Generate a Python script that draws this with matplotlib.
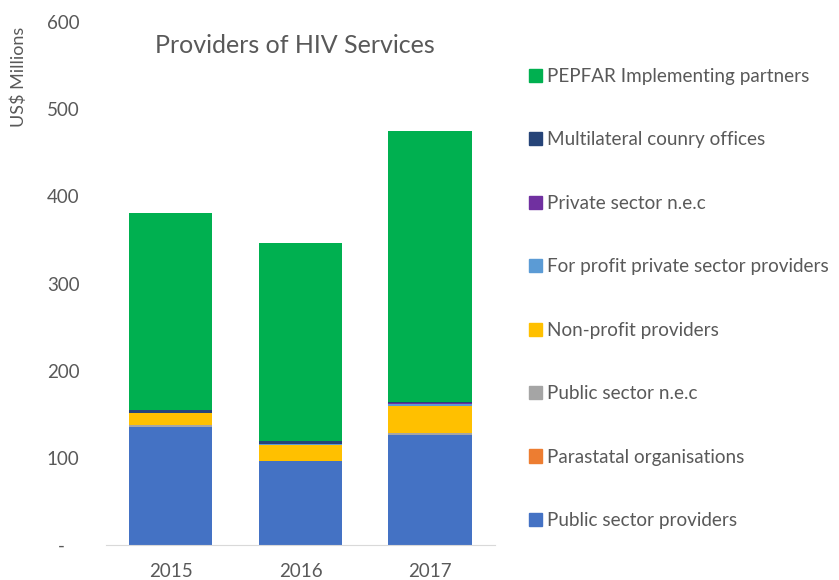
import numpy as np
from matplotlib import pyplot as plt
from matplotlib.patches import Patch

plt.rcParams['font.family'] = ['Lato', 'DejaVu Sans']

years = ["2015", "2016", "2017"]
series = [
    "Public sector providers",
    "Parastatal organisations",
    "Public sector n.e.c",
    "Non-profit providers",
    "For profit private sector providers",
    "Private sector n.e.c",
    "Multilateral counry offices",
    "PEPFAR Implementing partners",
]
values = [
    [135.5, 96.5, 126.0],
    [0.0, 0.0, 0.0],
    [2.5, 0.3, 2.5],
    [13.5, 18.0, 31.0],
    [0.3, 1.0, 2.7],
    [0.2, 0.2, 0.2],
    [3.4, 3.8, 1.8],
    [225.0, 227.0, 311.0],
]
colors = ["#4472C4", "#ED7D31", "#A5A5A5", "#FFC000",
          "#5B9BD5", "#7030A0", "#264478", "#00B050"]

text_col = "#595959"

fig = plt.figure(figsize=(8.39, 5.80), dpi=100)
ax = fig.add_axes([0.1263, 0.0603, 0.4637, 0.9017])

x = np.arange(len(years))
bottom = np.zeros(len(years))
for name, vals, c in zip(series, values, colors):
    vals = np.array(vals)
    ax.bar(x, vals, bottom=bottom, width=0.643, color=c, label=name)
    bottom += vals

ax.set_xlim(-0.5, 2.5)
ax.set_ylim(0, 600)
ax.set_yticks(range(0, 601, 100))
ax.set_yticklabels(["-   "] + [str(v) for v in range(100, 601, 100)])
ax.set_xticks(x)
ax.set_xticklabels(years)
ax.tick_params(axis='both', length=0, labelsize=13.5, colors=text_col)
ax.tick_params(axis='y', pad=19)
ax.tick_params(axis='x', pad=13)

for s in ["top", "right", "left"]:
    ax.spines[s].set_visible(False)
ax.spines["bottom"].set_color("#D9D9D9")

ax.text(0.485, 0.955, "Providers of HIV Services", transform=ax.transAxes,
        ha='center', va='center', fontsize=18, color=text_col)
fig.text(0.022, 0.868, "US$ Millions", rotation=90, ha='center', va='center',
         fontsize=13, color=text_col)

handles = [Patch(color=c) for c in colors][::-1]
fig.legend(handles, series[::-1], loc='upper left', bbox_to_anchor=(0.630, 0.883),
           frameon=False, fontsize=13.6, labelspacing=2.46, handlelength=0.7,
           handleheight=0.7, handletextpad=0.25, labelcolor=text_col,
           borderaxespad=0, borderpad=0)

fig.savefig("out.png", dpi=100)
